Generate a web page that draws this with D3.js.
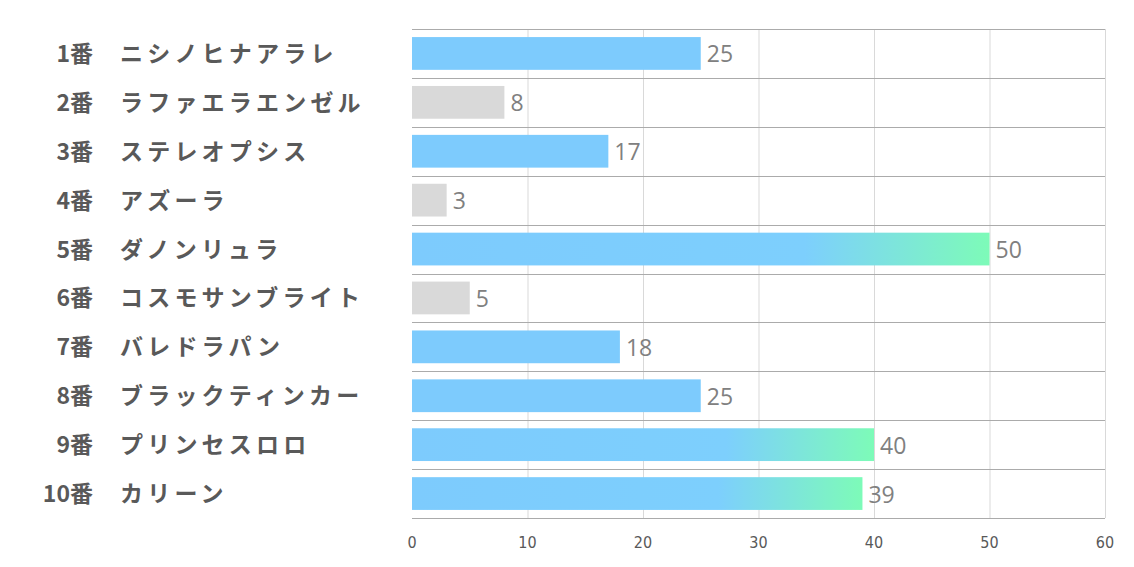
<!DOCTYPE html>
<html><head><meta charset="utf-8">
<script src="https://cdn.jsdelivr.net/npm/d3@7"></script>
<style>
html,body{margin:0;padding:0;background:#fff;}
svg{display:block;}
</style></head>
<body>
<svg id="c" width="1134" height="567"></svg>
<script>
const numbers = ["1番","2番","3番","4番","5番","6番","7番","8番","9番","10番"];
const names = ["ニシノヒナアラレ","ラファエラエンゼル","ステレオプシス","アズーラ","ダノンリュラ","コスモサンブライト","バレドラパン","ブラックティンカー","プリンセスロロ","カリーン"];
const values = [25,8,17,3,50,5,18,25,40,39];
const xTicks = [0,10,20,30,40,50,60];

(function(){
const svg = d3.select("#c");
const L = 412, R = 1105, T = 29, B = 518;

const x = d3.scaleLinear().domain([0,60]).range([L,R]);
const y = d3.scaleBand().domain(d3.range(values.length)).range([T,B]).paddingInner(0.33).paddingOuter(0.165);

const sorted = values.slice().sort((a,b)=>b-a);
const topThresh = sorted[2];
const lowThresh = 10;

const defs = svg.append("defs");
values.forEach((v,i)=>{
  const g = defs.append("linearGradient").attr("id","grad"+i).attr("x1","0%").attr("x2","100%").attr("y1","0%").attr("y2","0%");
  g.append("stop").attr("offset","0%").attr("stop-color","#7dcbfd");
  g.append("stop").attr("offset","68%").attr("stop-color","#7dcffd");
  g.append("stop").attr("offset","100%").attr("stop-color","#7dfbb8");
});

svg.append("g").selectAll("line").data(xTicks.filter(t=>t>0)).join("line")
  .attr("x1",d=>x(d)+0.5).attr("x2",d=>x(d)+0.5).attr("y1",T).attr("y2",B)
  .attr("stroke","#d9d9d9").attr("stroke-width",1);

svg.append("g").selectAll("rect").data(values).join("rect")
  .attr("x",x(0)).attr("y",(d,i)=>y(i)).attr("width",d=>x(d)-x(0)).attr("height",y.bandwidth())
  .attr("fill",(d,i)=> d>=topThresh ? `url(#grad${i})` : (d<lowThresh ? "#d9d9d9" : "#7dcbfd"));

const step = y.step();
svg.append("g").selectAll("line").data(d3.range(values.length+1)).join("line")
  .attr("x1",L).attr("x2",R).attr("y1",d=>Math.round(T+d*step)+0.5).attr("y2",d=>Math.round(T+d*step)+0.5)
  .attr("stroke","#ababab").attr("stroke-width",1);

svg.append("g").selectAll("text").data(values).join("text")
  .attr("x",d=>x(d)+6).attr("y",(d,i)=>y(i)+y.bandwidth()/2)
  .attr("dominant-baseline","central")
  .attr("font-family","'Open Sans','Noto Sans',sans-serif").attr("font-size",23)
  .attr("fill","#808080").text(d=>d);

const lab = svg.append("g").attr("font-family","'Noto Sans CJK JP',sans-serif").attr("font-weight","bold").attr("font-size",23).attr("fill","#595959");
lab.selectAll("text.num").data(numbers).join("text").attr("class","num")
  .attr("x",93).attr("y",(d,i)=>y(i)+y.bandwidth()/2-1.5).attr("dominant-baseline","central")
  .attr("text-anchor","end").text(d=>d);
lab.selectAll("text.name").data(names).join("text").attr("class","name")
  .attr("x",120).attr("y",(d,i)=>y(i)+y.bandwidth()/2-1.5).attr("dominant-baseline","central")
  .attr("letter-spacing",4.2).text(d=>d);

svg.append("g").selectAll("text").data(xTicks).join("text")
  .attr("x",d=>x(d)).attr("y",542).attr("text-anchor","middle").attr("dominant-baseline","central")
  .attr("font-family","'Liberation Sans Narrow','DejaVu Sans',sans-serif").attr("font-stretch","condensed")
  .attr("font-size",16).attr("fill","#595959").text(d=>d);
})();
</script>
</body></html>
